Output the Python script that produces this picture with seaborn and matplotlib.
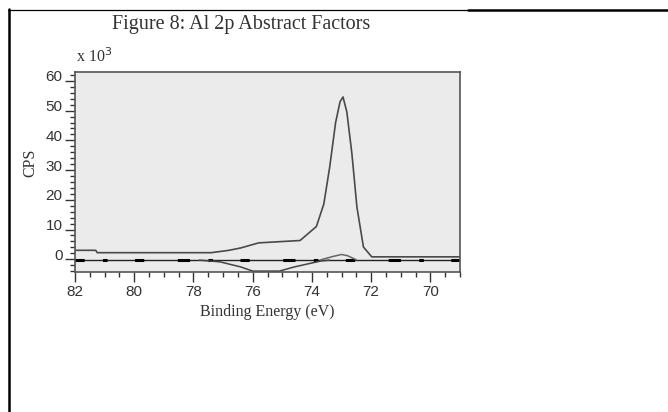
import matplotlib
matplotlib.use("Agg")
import matplotlib.pyplot as plt
import matplotlib.transforms as mtransforms
from matplotlib.lines import Line2D
from matplotlib.ticker import MultipleLocator, FixedLocator
import seaborn as sns
import pandas as pd

# ---- data ----
main_e = [82.0, 81.3, 81.25, 77.4, 76.8, 76.4, 75.8, 74.4, 73.85, 73.6, 73.4,
          73.2, 73.05, 72.95, 72.82, 72.65, 72.48, 72.26, 71.98, 69.0]
main_v = [3.0, 3.0, 2.2, 2.2, 3.0, 3.8, 5.5, 6.3, 11.0, 18.5, 31.0,
          46.0, 53.0, 54.6, 49.5, 35.5, 17.5, 4.1, 0.8, 0.8]

neg_e = [77.8, 77.1, 76.4, 76.0, 75.1, 74.6, 73.7, 73.4]
neg_v = [-0.3, -0.9, -2.6, -4.0, -4.0, -2.6, -0.6, -0.3]

bump_e = [73.7, 73.3, 73.0, 72.8, 72.5]
bump_v = [-0.2, 0.9, 1.6, 1.2, -0.2]

zero_e = [82.0, 69.0]
zero_v = [-0.3, -0.3]

title = "Figure 8: Al 2p Abstract Factors"
xlabel = "Binding Energy (eV)"
ylabel = "CPS"
xticks = [82, 80, 78, 76, 74, 72, 70]
yticks = [0, 10, 20, 30, 40, 50, 60]

sns.set_style("white")
plt.rcParams["hatch.color"] = "white"
plt.rcParams["hatch.linewidth"] = 0.8

fig = plt.figure(figsize=(6.68, 4.12), dpi=100)
ax = fig.add_axes([75/668, 140/412, 385/668, 200/412])
ax.set_facecolor("#ebebeb")
ax.patch.set_hatch("..")

df_main = pd.DataFrame({"E": main_e, "V": main_v})
df_neg = pd.DataFrame({"E": neg_e, "V": neg_v})
df_bump = pd.DataFrame({"E": bump_e, "V": bump_v})
df_zero = pd.DataFrame({"E": zero_e, "V": zero_v})

sns.lineplot(data=df_zero, x="E", y="V", ax=ax, color="#222222", lw=1.0, estimator=None)
sns.lineplot(data=df_zero, x="E", y="V", ax=ax, color="black", lw=2.2, estimator=None,
             dashes=False, linestyle=(0, (3, 9, 1.5, 6, 4, 11)))
sns.lineplot(data=df_neg, x="E", y="V", ax=ax, color="#444444", lw=1.1, estimator=None)
sns.lineplot(data=df_bump, x="E", y="V", ax=ax, color="#666666", lw=1.1, estimator=None)
sns.lineplot(data=df_main, x="E", y="V", ax=ax, color="#4a4a4a", lw=1.2, estimator=None)

ax.set_xlim(82, 69)
ax.set_ylim(-4.3, 63)

ax.xaxis.set_major_locator(FixedLocator(xticks))
ax.xaxis.set_minor_locator(MultipleLocator(0.5))
ax.yaxis.set_major_locator(FixedLocator(yticks))
ax.yaxis.set_minor_locator(MultipleLocator(2))
ax.set_xticklabels([str(t) for t in xticks])
ax.set_yticklabels([str(t) for t in yticks])

ax.tick_params(axis="both", which="major", direction="out", length=7, width=1.0,
               color="#333333", labelsize=11, pad=2, bottom=True, left=True)
ax.tick_params(axis="both", which="minor", direction="out", length=3.5, width=1.0,
               color="#333333", bottom=True, left=True)
for lab in ax.get_xticklabels() + ax.get_yticklabels():
    lab.set_family("Liberation Sans")
    lab.set_color("#333333")
# y labels sit slightly above their ticks
off = mtransforms.ScaledTranslation(0, 5/100, fig.dpi_scale_trans)
for lab in ax.get_yticklabels():
    lab.set_transform(lab.get_transform() + off)

for s in ax.spines.values():
    s.set_visible(True)
    s.set_color("#555555")
    s.set_linewidth(1.2)

ax.set_xlabel(xlabel, family="Liberation Serif", fontsize=11.5, color="#333333", labelpad=4)
ax.set_ylabel("")
fig.text(30/668, 1 - 163/412, ylabel, rotation=90, ha="center", va="center",
         family="Liberation Serif", fontsize=11.5, color="#333333")

fig.text(241/668, 1 - 24/412, title, ha="center", va="center",
         family="Liberation Serif", fontsize=14.5, color="#333333")
fig.text(76/668, 1 - 57/412, r"x 10$^{3}$", ha="left", va="center",
         family="Liberation Serif", fontsize=11.5, color="#333333")

# outer frame lines
fig.add_artist(Line2D([8/668, 468/668], [1 - 9.5/412, 1 - 9.5/412], transform=fig.transFigure,
                      color="black", lw=0.9))
fig.add_artist(Line2D([468/668, 1.0], [1 - 10/412, 1 - 10/412], transform=fig.transFigure,
                      color="black", lw=1.8))
fig.add_artist(Line2D([9/668, 9/668], [1 - 9/412, 0], transform=fig.transFigure,
                      color="black", lw=1.8))

fig.savefig("out.png", dpi=100)
